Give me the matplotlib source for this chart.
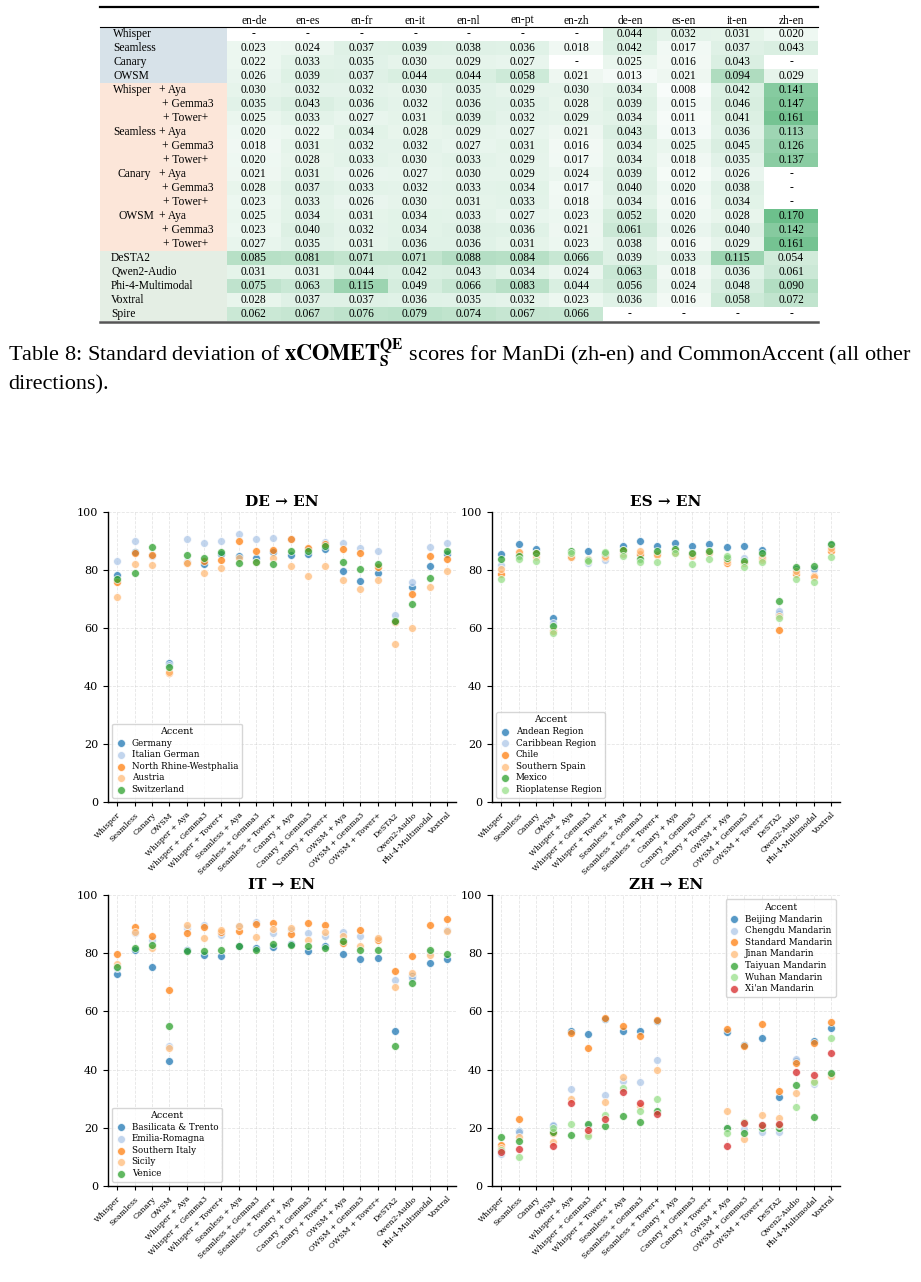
import numpy as np
import matplotlib
matplotlib.use("Agg")
import matplotlib.pyplot as plt
from matplotlib.patches import Rectangle
from matplotlib.colors import LinearSegmentedColormap, Normalize

plt.rcParams["font.family"] = ["DejaVu Serif"]
plt.rcParams["mathtext.fontset"] = "stix"

nan = np.nan

# ---------------- table data ----------------
table_cols = ["en-de", "en-es", "en-fr", "en-it", "en-nl", "en-pt", "en-zh",
              "de-en", "es-en", "it-en", "zh-en"]

e2e_labels = ["Whisper", "Seamless", "Canary", "OWSM"]
e2e_values = [
    [nan, nan, nan, nan, nan, nan, nan, 0.044, 0.032, 0.031, 0.020],
    [0.023, 0.024, 0.037, 0.039, 0.038, 0.036, 0.018, 0.042, 0.017, 0.037, 0.043],
    [0.022, 0.033, 0.035, 0.030, 0.029, 0.027, nan, 0.025, 0.016, 0.043, nan],
    [0.026, 0.039, 0.037, 0.044, 0.044, 0.058, 0.021, 0.013, 0.021, 0.094, 0.029],
]

cascade_asr = ["Whisper", "Seamless", "Canary", "OWSM"]
cascade_llm = ["+ Aya", "+ Gemma3", "+ Tower+"]
cascade_values = [
    [0.030, 0.032, 0.032, 0.030, 0.035, 0.029, 0.030, 0.034, 0.008, 0.042, 0.141],
    [0.035, 0.043, 0.036, 0.032, 0.036, 0.035, 0.028, 0.039, 0.015, 0.046, 0.147],
    [0.025, 0.033, 0.027, 0.031, 0.039, 0.032, 0.029, 0.034, 0.011, 0.041, 0.161],
    [0.020, 0.022, 0.034, 0.028, 0.029, 0.027, 0.021, 0.043, 0.013, 0.036, 0.113],
    [0.018, 0.031, 0.032, 0.032, 0.027, 0.031, 0.016, 0.034, 0.025, 0.045, 0.126],
    [0.020, 0.028, 0.033, 0.030, 0.033, 0.029, 0.017, 0.034, 0.018, 0.035, 0.137],
    [0.021, 0.031, 0.026, 0.027, 0.030, 0.029, 0.024, 0.039, 0.012, 0.026, nan],
    [0.028, 0.037, 0.033, 0.032, 0.033, 0.034, 0.017, 0.040, 0.020, 0.038, nan],
    [0.023, 0.033, 0.026, 0.030, 0.031, 0.033, 0.018, 0.034, 0.016, 0.034, nan],
    [0.025, 0.034, 0.031, 0.034, 0.033, 0.027, 0.023, 0.052, 0.020, 0.028, 0.170],
    [0.023, 0.040, 0.032, 0.034, 0.038, 0.036, 0.021, 0.061, 0.026, 0.040, 0.142],
    [0.027, 0.035, 0.031, 0.036, 0.036, 0.031, 0.023, 0.038, 0.016, 0.029, 0.161],
]

sllm_labels = ["DeSTA2", "Qwen2-Audio", "Phi-4-Multimodal", "Voxtral", "Spire"]
sllm_values = [
    [0.085, 0.081, 0.071, 0.071, 0.088, 0.084, 0.066, 0.039, 0.033, 0.115, 0.054],
    [0.031, 0.031, 0.044, 0.042, 0.043, 0.034, 0.024, 0.063, 0.018, 0.036, 0.061],
    [0.075, 0.063, 0.115, 0.049, 0.066, 0.083, 0.044, 0.056, 0.024, 0.048, 0.090],
    [0.028, 0.037, 0.037, 0.036, 0.035, 0.032, 0.023, 0.036, 0.016, 0.058, 0.072],
    [0.062, 0.067, 0.076, 0.079, 0.074, 0.067, 0.066, nan, nan, nan, nan],
]

# ---------------- scatter data ----------------
models = ["Whisper", "Seamless", "Canary", "OWSM",
          "Whisper + Aya", "Whisper + Gemma3", "Whisper + Tower+",
          "Seamless + Aya", "Seamless + Gemma3", "Seamless + Tower+",
          "Canary + Aya", "Canary + Gemma3", "Canary + Tower+",
          "OWSM + Aya", "OWSM + Gemma3", "OWSM + Tower+",
          "DeSTA2", "Qwen2-Audio", "Phi-4-Multimodal", "Voxtral"]

de_accents = ["Germany", "Italian German", "North Rhine-Westphalia", "Austria", "Switzerland"]
de_germany = [78.3, 86.3, 85.2, 47.8, 82.7, 81.9, 85.5, 85.0, 84.2, 86.3, 85.2, 85.6, 87.2, 79.8, 76.1, 79.1, 62.3, 74.0, 81.5, 85.4]
de_italian_german = [83.0, 90.1, 85.0, 47.2, 90.8, 89.4, 90.0, 92.4, 90.6, 90.9, 90.6, 87.3, 89.8, 89.2, 87.5, 86.5, 64.4, 75.9, 88.1, 89.2]
de_nrw = [75.7, 85.8, 85.2, 44.6, 82.5, 83.0, 83.6, 90.1, 86.7, 87.0, 90.8, 87.7, 89.1, 87.4, 85.9, 81.2, 62.2, 71.8, 84.7, 83.8]
de_austria = [70.8, 82.1, 81.8, 45.0, 82.3, 78.8, 80.7, 84.2, 82.6, 84.1, 81.5, 78.1, 81.3, 76.6, 73.4, 76.4, 54.6, 59.9, 74.3, 79.6]
de_switzerland = [77.0, 79.1, 88.1, 46.6, 85.3, 84.2, 86.1, 82.3, 82.6, 81.9, 86.7, 86.4, 88.3, 82.6, 80.5, 82.1, 62.4, 68.2, 77.1, 86.5]

es_accents = ["Andean Region", "Caribbean Region", "Chile", "Southern Spain", "Mexico", "Rioplatense Region"]
es_andean = [85.5, 89.0, 87.4, 63.6, 84.6, 86.7, 85.5, 88.2, 89.9, 88.2, 89.3, 88.3, 89.0, 88.1, 88.4, 86.9, 65.0, 80.5, 80.5, 88.5]
es_caribbean = [81.8, 85.2, 86.0, 61.6, 85.0, 82.3, 83.6, 85.5, 85.2, 86.0, 86.5, 85.8, 86.5, 84.0, 84.3, 85.0, 65.7, 79.5, 80.5, 88.0]
es_chile = [78.7, 86.2, 85.8, 59.0, 84.4, 83.3, 84.6, 87.0, 85.4, 85.6, 86.5, 85.5, 86.3, 82.5, 82.5, 84.2, 59.2, 78.7, 77.9, 86.6]
es_southern_spain = [80.2, 86.3, 84.5, 59.0, 84.5, 83.8, 85.0, 85.5, 86.5, 85.3, 86.0, 84.8, 86.0, 83.2, 82.5, 83.5, 64.3, 79.5, 77.5, 87.5]
es_mexico = [83.9, 85.0, 85.7, 60.8, 86.4, 83.4, 85.9, 87.0, 83.9, 86.7, 87.4, 85.7, 86.5, 84.3, 83.0, 85.8, 69.2, 81.1, 81.3, 88.9]
es_rioplatense = [76.8, 83.9, 83.0, 58.3, 86.0, 83.0, 86.3, 85.0, 82.6, 82.7, 85.9, 82.1, 83.8, 84.7, 81.1, 82.8, 63.3, 77.0, 75.8, 84.6]

it_accents = ["Basilicata & Trento", "Emilia-Romagna", "Southern Italy", "Sicily", "Venice"]
it_basilicata = [72.8, 81.0, 75.1, 43.0, 81.0, 79.3, 79.2, 82.5, 81.8, 82.3, 83.0, 80.7, 82.5, 79.7, 77.9, 78.4, 53.2, 72.0, 76.8, 78.1]
it_emilia = [75.0, 87.0, 84.5, 48.2, 88.5, 89.8, 86.4, 89.5, 90.8, 86.8, 88.0, 86.8, 85.8, 87.2, 86.0, 85.0, 70.7, 71.6, 80.5, 88.0]
it_southern_italy = [79.6, 89.0, 85.8, 67.2, 87.1, 88.9, 87.3, 87.6, 89.9, 90.4, 86.6, 90.5, 89.8, 83.5, 87.9, 84.6, 74.0, 79.2, 89.6, 91.6]
it_sicily = [76.2, 87.2, 81.8, 47.5, 89.6, 85.1, 88.1, 89.5, 85.7, 88.2, 88.6, 84.7, 87.3, 85.8, 82.5, 85.1, 68.3, 73.1, 79.4, 87.6]
it_venice = [75.3, 81.9, 82.7, 55.1, 80.9, 80.7, 81.1, 82.5, 81.0, 83.1, 82.8, 82.6, 81.7, 84.2, 81.0, 81.1, 48.1, 69.6, 81.0, 79.6]

zh_accents = ["Beijing Mandarin", "Chengdu Mandarin", "Standard Mandarin", "Jinan Mandarin",
              "Taiyuan Mandarin", "Wuhan Mandarin", "Xi'an Mandarin"]
zh_beijing = [12.0, 18.8, nan, 20.5, 53.3, 52.2, 57.5, 53.1, 53.1, 56.7, nan, nan, nan, 52.9, 48.5, 50.9, 30.7, 43.0, 49.9, 54.2]
zh_chengdu = [11.1, 18.5, nan, 20.8, 33.3, 21.0, 31.1, 36.0, 35.6, 43.4, nan, nan, nan, 20.0, 19.7, 18.5, 18.5, 43.5, 35.0, 38.5]
zh_standard = [14.2, 23.0, nan, 18.3, 52.5, 47.4, 57.7, 55.0, 51.6, 57.2, nan, nan, nan, 53.9, 48.1, 55.7, 32.7, 42.4, 49.1, 56.3]
zh_jinan = [13.0, 16.8, nan, 15.0, 30.0, 18.0, 28.8, 37.4, 27.5, 40.0, nan, nan, nan, 25.9, 16.2, 24.4, 23.3, 31.8, 36.0, 37.8]
zh_taiyuan = [16.9, 15.6, nan, 18.5, 17.6, 21.4, 20.6, 24.0, 21.9, 25.7, nan, nan, nan, 19.8, 18.1, 20.0, 20.1, 34.6, 23.6, 38.8]
zh_wuhan = [12.5, 10.1, nan, 20.0, 21.3, 17.3, 24.3, 33.6, 25.9, 29.9, nan, nan, nan, 18.3, 22.0, 21.0, 21.0, 27.0, 35.8, 51.0]
zh_xian = [11.7, 12.6, nan, 13.8, 28.5, 19.2, 23.0, 32.3, 28.5, 24.9, nan, nan, nan, 13.6, 21.5, 20.8, 21.4, 39.2, 38.2, 45.7]

palette = ["#1f77b4", "#aec7e8", "#ff7f0e", "#ffbb78", "#2ca02c", "#98df8a", "#d62728"]

panels = [
    ("DE \u2192 EN", de_accents, [de_germany, de_italian_german, de_nrw, de_austria, de_switzerland], "lower left"),
    ("ES \u2192 EN", es_accents, [es_andean, es_caribbean, es_chile, es_southern_spain, es_mexico, es_rioplatense], "lower left"),
    ("IT \u2192 EN", it_accents, [it_basilicata, it_emilia, it_southern_italy, it_sicily, it_venice], "lower left"),
    ("ZH \u2192 EN", zh_accents, [zh_beijing, zh_chengdu, zh_standard, zh_jinan, zh_taiyuan, zh_wuhan, zh_xian], "upper right"),
]

# ---------------- figure ----------------
W, H = 921, 1282
fig = plt.figure(figsize=(W / 100, H / 100), dpi=100)

ov = fig.add_axes([0, 0, 1, 1], zorder=0)
ov.set_xlim(0, W)
ov.set_ylim(H, 0)
ov.axis("off")

serif = ["Liberation Serif", "DejaVu Serif"]
tfs = 8.3
x_left, x_cells, x_right = 100, 227, 818
cw = (x_right - x_cells) / len(table_cols)
row_h = 14.0
y_first = 27.3

cmap = LinearSegmentedColormap.from_list("g", ["#ffffff", "#54b578"])
norm = Normalize(0, 0.2)

# header
for j, c in enumerate(table_cols):
    ov.text(x_cells + (j + 0.5) * cw, 20.5, c, ha="center", va="center",
            fontsize=tfs, family=serif)

rows = []
for lab, vals in zip(e2e_labels, e2e_values):
    rows.append(("e2e", lab, None, vals))
k = 0
for asr in cascade_asr:
    for i, llm in enumerate(cascade_llm):
        rows.append(("cas", asr if i == 0 else None, llm, cascade_values[k]))
        k += 1
for lab, vals in zip(sllm_labels, sllm_values):
    rows.append(("sllm", lab, None, vals))

group_bg = {"e2e": "#d7e2e9", "cas": "#fce6d9", "sllm": "#e4eee4"}
asr_x = {"Whisper": 113, "Seamless": 113, "Canary": 117, "OWSM": 118}
llm_x = {"+ Aya": 159, "+ Gemma3": 162, "+ Tower+": 163}

for i, (grp, lab, llm, vals) in enumerate(rows):
    y0 = y_first + i * row_h
    yc = y0 + row_h / 2
    ov.add_patch(Rectangle((x_left, y0), x_cells - x_left, row_h,
                           facecolor=group_bg[grp], edgecolor="none", zorder=1))
    if grp == "cas":
        if lab:
            ov.text(asr_x[lab], yc, lab, ha="left", va="center", fontsize=tfs, family=serif)
        ov.text(llm_x[llm], yc, llm, ha="left", va="center", fontsize=tfs, family=serif)
    else:
        ov.text(113 if grp == "e2e" else 111, yc, lab, ha="left", va="center",
                fontsize=tfs, family=serif)
    for j, v in enumerate(vals):
        xc = x_cells + j * cw
        if np.isnan(v):
            txt = "-"
        else:
            ov.add_patch(Rectangle((xc, y0), cw, row_h, facecolor=cmap(norm(v)),
                                   edgecolor="none", zorder=1))
            txt = f"{v:.3f}"
        ov.text(xc + cw / 2, yc, txt, ha="center", va="center", fontsize=tfs,
                family=serif, zorder=2)

y_end = y_first + len(rows) * row_h
ov.plot([x_left, x_right], [7, 7], color="black", lw=1.6, zorder=3)
ov.plot([x_left, x_right], [y_first, y_first], color="black", lw=0.8, zorder=3)
ov.plot([x_left, x_right], [y_end + 1, y_end + 1], color="#555555", lw=1.8, zorder=3)

cap1 = (r"Table 8: Standard deviation of $\mathbf{xCOMET}_{\mathbf{S}}^{\mathbf{QE}}$"
        r" scores for ManDi (zh-en) and CommonAccent (all other")
ov.text(8, 361, cap1, ha="left", va="baseline", fontsize=16, family=serif)
ov.text(8, 389, "directions).", ha="left", va="baseline", fontsize=16, family=serif)

# ---------------- scatter panels ----------------
ax_pos = [(108, 512, 456, 802), (492, 512, 840, 802),
          (108, 895, 456, 1186), (492, 895, 840, 1186)]

for (title, accents, series, loc), (l, t, r, b) in zip(panels, ax_pos):
    ax = fig.add_axes([l / W, 1 - b / H, (r - l) / W, (b - t) / H], zorder=2)
    x = np.arange(len(models))
    for k, (acc, vals) in enumerate(zip(accents, series)):
        ax.scatter(x, vals, s=32, color=palette[k], alpha=0.75, edgecolor="white",
                   linewidth=0.6, label=acc, zorder=3)
    ax.set_xlim(-0.53, len(models) - 0.48)
    ax.set_ylim(0, 100)
    ax.set_yticks([0, 20, 40, 60, 80, 100])
    ax.set_xticks(x)
    ax.set_xticklabels(models, rotation=45, ha="right", rotation_mode="anchor", fontsize=5.6)
    ax.tick_params(axis="y", labelsize=8, length=3.5, width=0.8)
    ax.tick_params(axis="x", length=3, width=0.8)
    ax.grid(True, linestyle="--", linewidth=0.6, color="#cccccc", alpha=0.5)
    ax.set_axisbelow(True)
    for sp in ["top", "right"]:
        ax.spines[sp].set_visible(False)
    for sp in ["left", "bottom"]:
        ax.spines[sp].set_linewidth(1.0)
    ax.set_title(title, fontsize=11, fontweight="bold", pad=4)
    leg = ax.legend(title="Accent", loc=loc, fontsize=6.3, title_fontsize=6.8,
                    frameon=True, framealpha=0.8, edgecolor="#cccccc",
                    labelspacing=0.3, handletextpad=0.6, borderpad=0.4,
                    handlelength=1.2)

fig.savefig("out.png", dpi=100)
